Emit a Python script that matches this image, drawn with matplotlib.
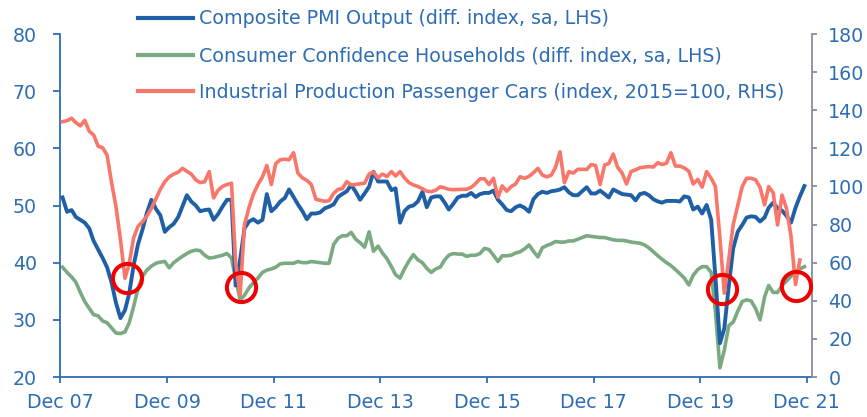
import matplotlib
matplotlib.use("Agg")
import matplotlib.pyplot as plt
import pandas as pd

# ---------------- data (monthly, Dec 2007 onwards) ----------------
start_month = "2007-12-01"

pmi_composite = [
    51.4, 48.9, 49.2, 48.0, 47.5, 47.0, 46.0, 43.8, 42.3, 40.8,
    39.2, 36.5, 33.0, 30.3, 31.7, 34.5, 39.5, 43.2, 45.8, 48.7,
    51.0, 49.4, 48.3, 45.4, 46.2, 46.8, 48.0, 49.8, 51.8, 50.7,
    50.0, 49.0, 49.2, 49.3, 47.5, 48.5, 49.8, 51.0, 51.0, 36.0,
    40.5, 46.0, 47.2, 47.6, 47.0, 47.5, 52.0, 49.0, 49.7, 50.7,
    51.3, 52.8, 51.5, 50.2, 49.0, 47.6, 48.6, 48.6, 48.8, 49.5,
    49.8, 50.2, 51.5, 52.0, 52.5, 53.6, 52.4, 51.0, 52.1, 53.3,
    55.9, 54.2, 54.2, 54.2, 52.7, 53.0, 47.0, 49.0, 49.8, 50.0,
    50.7, 52.4, 49.7, 51.4, 51.6, 51.6, 50.5, 49.3, 50.3, 51.4,
    51.7, 51.7, 52.2, 51.5, 52.0, 52.2, 52.2, 52.6, 51.0, 50.2,
    49.2, 49.0, 49.7, 50.0, 49.6, 48.9, 51.1, 52.0, 52.4, 52.2,
    52.5, 52.6, 52.8, 53.2, 52.3, 51.8, 51.8, 52.5, 53.2, 52.1,
    52.1, 52.6, 52.0, 51.4, 52.8, 52.4, 52.0, 51.9, 51.8, 50.9,
    52.0, 52.2, 51.8, 51.1, 50.7, 50.5, 50.8, 50.8, 50.8, 50.7,
    51.6, 51.4, 49.3, 49.8, 48.6, 50.1, 47.5, 37.5, 25.9, 28.5,
    36.0, 42.5, 45.4, 46.6, 47.9, 48.1, 48.0, 47.2, 47.9, 49.6,
    50.5, 49.5, 49.1, 48.2, 47.0, 49.6, 51.6, 53.4,
]

consumer_confidence = [
    39.2, 38.3, 37.5, 36.6, 34.8, 33.2, 32.0, 30.9, 30.7, 29.8,
    29.5, 28.6, 27.7, 27.6, 27.9, 29.4, 32.3, 35.5, 37.6, 38.7,
    39.4, 39.9, 40.1, 40.2, 39.1, 40.0, 40.6, 41.1, 41.6, 42.0,
    42.2, 42.1, 41.3, 40.8, 40.9, 41.1, 41.3, 41.6, 40.8, 37.2,
    33.5, 34.3, 35.6, 36.5, 37.3, 38.3, 38.7, 38.9, 39.2, 39.8,
    39.9, 39.9, 39.9, 40.2, 40.0, 40.0, 40.2, 40.1, 40.0, 39.9,
    39.9, 43.2, 44.3, 44.7, 44.7, 45.3, 44.1, 43.5, 42.7, 45.4,
    42.0, 42.9, 41.7, 40.7, 39.3, 37.9, 37.3, 38.9, 40.3, 41.4,
    40.5, 40.0, 39.0, 38.3, 38.9, 39.2, 40.5, 41.3, 41.6, 41.5,
    41.5, 41.1, 41.3, 41.3, 41.6, 42.5, 42.3, 41.3, 40.2, 41.2,
    41.2, 41.3, 41.7, 41.9, 42.4, 43.1, 42.0, 41.0, 42.6, 43.0,
    43.3, 43.7, 43.6, 43.6, 43.8, 43.8, 44.1, 44.4, 44.7, 44.6,
    44.5, 44.4, 44.4, 44.2, 44.0, 43.9, 43.9, 43.8, 43.6, 43.5,
    43.4, 43.1, 42.6, 41.9, 41.2, 40.6, 40.0, 39.5, 38.8, 38.1,
    37.3, 36.1, 37.8, 38.8, 39.3, 39.3, 38.3, 31.5, 21.6, 24.7,
    29.0, 29.6, 31.5, 33.2, 33.5, 33.3, 32.0, 30.0, 34.0, 36.0,
    34.8, 34.8, 36.0, 36.8, 37.6, 38.4, 38.9, 39.3,
]

car_production = [
    134.0, 134.5, 135.8, 133.5, 131.8, 134.7, 129.0, 127.0, 121.1, 120.3,
    116.5, 102.0, 89.5, 72.0, 51.8, 59.0, 73.0, 79.0, 81.5, 84.5,
    88.5, 93.5, 98.5, 102.5, 105.0, 106.5, 107.5, 109.5, 108.0, 106.5,
    103.5, 102.0, 102.5, 107.8, 94.0, 98.0, 100.0, 101.0, 101.7, 60.0,
    43.0, 80.0, 89.0, 96.0, 101.0, 105.0, 111.0, 101.0, 112.0, 114.0,
    114.3, 114.0, 117.7, 107.0, 104.5, 103.2, 101.0, 93.3, 92.7, 92.2,
    92.5, 96.4, 98.5, 98.8, 102.5, 100.8, 101.0, 101.4, 101.7, 106.5,
    107.5, 104.5, 106.5, 105.2, 107.8, 105.5, 107.8, 104.5, 102.0, 100.8,
    100.0, 98.8, 97.5, 97.3, 98.0, 99.8, 99.2, 98.5, 98.3, 98.4,
    98.5, 98.5, 99.5, 101.5, 104.0, 104.0, 101.0, 104.3, 94.3, 100.3,
    97.5, 99.9, 101.3, 105.1, 104.3, 105.3, 107.2, 109.5, 106.0, 105.0,
    106.0, 110.0, 118.2, 102.0, 107.8, 107.0, 109.0, 109.0, 108.9, 111.5,
    111.0, 101.0, 111.3, 112.0, 117.0, 110.0, 107.0, 101.3, 107.8, 108.7,
    109.8, 110.2, 110.4, 110.2, 112.5, 111.5, 112.2, 117.7, 110.7, 110.7,
    109.7, 108.0, 101.3, 103.7, 99.6, 107.8, 104.3, 100.0, 73.0, 44.0,
    62.0, 80.0, 90.0, 100.0, 104.3, 104.3, 103.5, 99.5, 90.3, 99.9,
    96.7, 79.8, 95.5, 88.5, 74.0, 48.5, 61.4,
]

# highlighted turning points (date, level on right-hand scale)
circle_dates = ["2009-02-27", "2011-04-19", "2020-05-01", "2021-09-15"]
circle_levels = [52.1, 47.1, 46.0, 47.8]

labels = [
    "Composite PMI Output (diff. index, sa, LHS)",
    "Consumer Confidence Households (diff. index, sa, LHS)",
    "Industrial Production Passenger Cars (index, 2015=100, RHS)",
]
tick_years = [2007, 2009, 2011, 2013, 2015, 2017, 2019, 2021]

# ---------------- style ----------------
TEXT = "#2E6DB4"
BLUE = "#1F5FA6"
GREEN = "#7BAA82"
RED = "#F8766A"
GREY = "#8A8C9C"
FS = 13.7
plt.rcParams["font.family"] = ["DejaVu Sans"]


def month_dates(n):
    return pd.date_range(start_month, periods=n, freq="MS") + pd.Timedelta(days=14)


fig = plt.figure(figsize=(8.67, 4.17), dpi=100)
ax = fig.add_axes([0.06978, 0.09592, 0.86644, 0.82254])
ax2 = ax.twinx()

l2, = ax.plot(month_dates(len(consumer_confidence)), consumer_confidence,
              color=GREEN, lw=2.6, solid_joinstyle="round", zorder=2)
l1, = ax.plot(month_dates(len(pmi_composite)), pmi_composite,
              color=BLUE, lw=2.8, solid_joinstyle="round", zorder=3)
l3, = ax2.plot(month_dates(len(car_production)), car_production,
               color=RED, lw=2.6, solid_joinstyle="round", zorder=3)
ax2.plot(pd.to_datetime(circle_dates), circle_levels, linestyle="none",
         marker="o", markersize=21, markerfacecolor="none",
         markeredgecolor="#F00000", markeredgewidth=2.9, zorder=5)

ax.set_ylim(20, 80)
ax2.set_ylim(0, 180)
ax.set_yticks(range(20, 81, 10))
ax2.set_yticks(range(0, 181, 20))
ax.set_xlim(pd.Timestamp("2007-12-01"), pd.Timestamp("2022-01-04"))
ax.set_xticks([pd.Timestamp(f"{y}-12-01") for y in tick_years])
ax.set_xticklabels([f"Dec {y % 100:02d}" for y in tick_years])

for a in (ax, ax2):
    a.spines["top"].set_visible(False)
    a.patch.set_visible(False)
ax.spines["right"].set_visible(False)
ax2.spines["left"].set_visible(False)
ax2.spines["bottom"].set_visible(False)
ax.spines["left"].set_color(TEXT)
ax.spines["bottom"].set_color(TEXT)
ax2.spines["right"].set_color(GREY)
for s in (ax.spines["left"], ax.spines["bottom"], ax2.spines["right"]):
    s.set_linewidth(1.3)

ax.tick_params(axis="y", colors=TEXT, labelsize=FS, length=5, width=1.3, pad=12)
ax.tick_params(axis="x", colors=TEXT, labelsize=FS, length=4.3, width=1.3, pad=7)
ax2.tick_params(axis="y", color=GREY, labelcolor=TEXT, labelsize=FS,
                length=3.6, width=1.3, pad=8.4)

leg = fig.legend([l1, l2, l3], labels, loc="upper left",
                 bbox_to_anchor=(138.3 / 867, 1 - 9.5 / 417),
                 frameon=False, fontsize=FS, labelcolor=TEXT,
                 handlelength=2.9, handletextpad=0.28, labelspacing=0.93,
                 borderpad=0, borderaxespad=0)
for h in leg.get_lines():
    h.set_linewidth(3.0)

fig.savefig("out.png", dpi=100)
